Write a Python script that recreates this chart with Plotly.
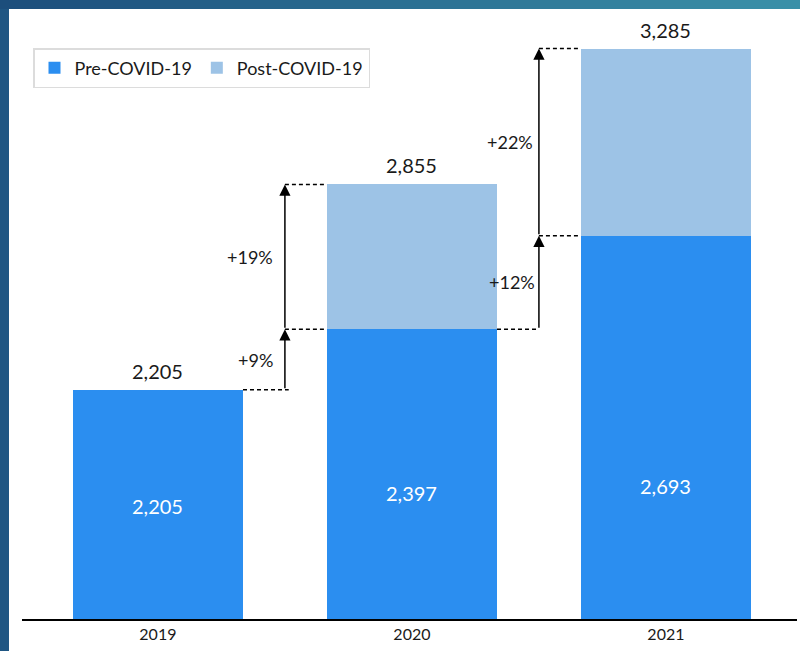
import plotly.graph_objects as go

# ---- data ----
years = ["2019", "2020", "2021"]
pre_covid = [2205, 2397, 2693]
totals = [2205, 2855, 3285]
post_covid = [t - p for t, p in zip(totals, pre_covid)]

W, H = 800, 651
FONT = "Lato, Carlito, Calibri, sans-serif"
PRE_COLOR = "#2b8ef0"
POST_COLOR = "#9dc3e6"
BAR_WIDTH = 0.67

x = list(range(len(years)))


def fx(px):
    return px / W


def fy(px):
    return 1 - px / H


fig = go.Figure()
fig.add_trace(go.Bar(x=x, y=pre_covid, name="Pre-COVID-19", width=BAR_WIDTH,
                     marker=dict(color=PRE_COLOR, line=dict(width=0))))
fig.add_trace(go.Bar(x=x, y=post_covid, name="Post-COVID-19", width=BAR_WIDTH,
                     marker=dict(color=POST_COLOR, line=dict(width=0))))

annotations = []
shapes = []

# totals above the bars
for i, t in enumerate(totals):
    annotations.append(dict(x=i, y=t, text=f"{t:,}", showarrow=False, yanchor="bottom",
                            yshift=5, font=dict(family=FONT, size=20, color="#1a1a1a")))

# white labels inside the pre-covid part
inside_px = [520, 507, 500]
for i, v in enumerate(pre_covid):
    annotations.append(dict(x=i, xref="x", y=fy(inside_px[i]), yref="paper", text=f"{v:,}",
                            showarrow=False, font=dict(family=FONT, size=20, color="white")))

half = BAR_WIDTH / 2
dash = dict(color="black", width=1.5, dash="4px,3px")


def hline(xa, xb, yv):
    shapes.append(dict(type="line", xref="x", yref="y", x0=xa, x1=xb, y0=yv, y1=yv, line=dash))


def arrow(xm, y_from, y_to, label, shift):
    annotations.append(dict(x=xm, y=y_to, ax=xm, ay=y_from, xref="x", yref="y", axref="x",
                            ayref="y", text="", showarrow=True, arrowhead=2, arrowsize=1.5,
                            arrowwidth=1.5, arrowcolor="black", standoff=0, startstandoff=0))
    annotations.append(dict(x=xm, y=(y_from + y_to) / 2, text=label, showarrow=False,
                            xanchor="right", xshift=shift,
                            font=dict(family=FONT, size=18, color="#1a1a1a")))


def pct(a, b):
    return f"+{round((b / a - 1) * 100)}%"


# 2019 -> 2020
m = 0.5
hline(half, m + 0.015, totals[0])
hline(m, 1 - half, pre_covid[1])
hline(m, 1 - half, totals[1])
arrow(m, totals[0], pre_covid[1], pct(totals[0], pre_covid[1]), -10)
arrow(m, pre_covid[1], totals[1], pct(pre_covid[1], totals[1]), -10)

# 2020 -> 2021
m = 1.5
hline(1 + half, m, pre_covid[1])
hline(m, 2 - half, pre_covid[2])
hline(m, 2 - half, totals[2])
arrow(m, pre_covid[1], pre_covid[2], pct(pre_covid[1], pre_covid[2]), -2)
arrow(m, pre_covid[2], totals[2], pct(pre_covid[2], totals[2]), -4)

# blue frame on the left and top
shapes.append(dict(type="rect", xref="paper", yref="paper", x0=0, x1=fx(9), y0=0, y1=1,
                   fillcolor="#1f5683", line=dict(width=0)))
n = 40
c0, c1 = (28, 78, 124), (58, 144, 168)
for k in range(n):
    t = k / (n - 1)
    col = "rgb({},{},{})".format(*[round(a + (b - a) * t) for a, b in zip(c0, c1)])
    shapes.append(dict(type="rect", xref="paper", yref="paper", x0=k / n, x1=(k + 1) / n + 0.002,
                       y0=fy(9), y1=1, fillcolor=col, line=dict(width=0)))

fig.update_layout(
    width=W, height=H,
    margin=dict(l=0, r=0, t=0, b=0),
    paper_bgcolor="white", plot_bgcolor="rgba(0,0,0,0)",
    barmode="stack",
    hovermode=False,
    font=dict(family=FONT, color="#1a1a1a"),
    xaxis=dict(domain=[fx(22), fx(797)], range=[-0.535, 2.516], tickvals=x, ticktext=years,
               showline=True, linecolor="black", linewidth=2, ticks="", showgrid=False,
               zeroline=False, tickfont=dict(family=FONT, size=16, color="#1a1a1a")),
    yaxis=dict(domain=[fy(619), fy(10)], range=[1480, 3407], visible=False),
    showlegend=True,
    legend=dict(orientation="h", x=fx(33), y=fy(48), xanchor="left", yanchor="top",
                bordercolor="#dcdcdc", borderwidth=1.5, bgcolor="white", traceorder="normal",
                font=dict(family=FONT, size=18, color="#1a1a1a")),
    annotations=annotations,
    shapes=shapes,
)

fig.write_html("out.html", config={"displayModeBar": False, "staticPlot": True},
               post_script="document.body.style.margin='0';")
